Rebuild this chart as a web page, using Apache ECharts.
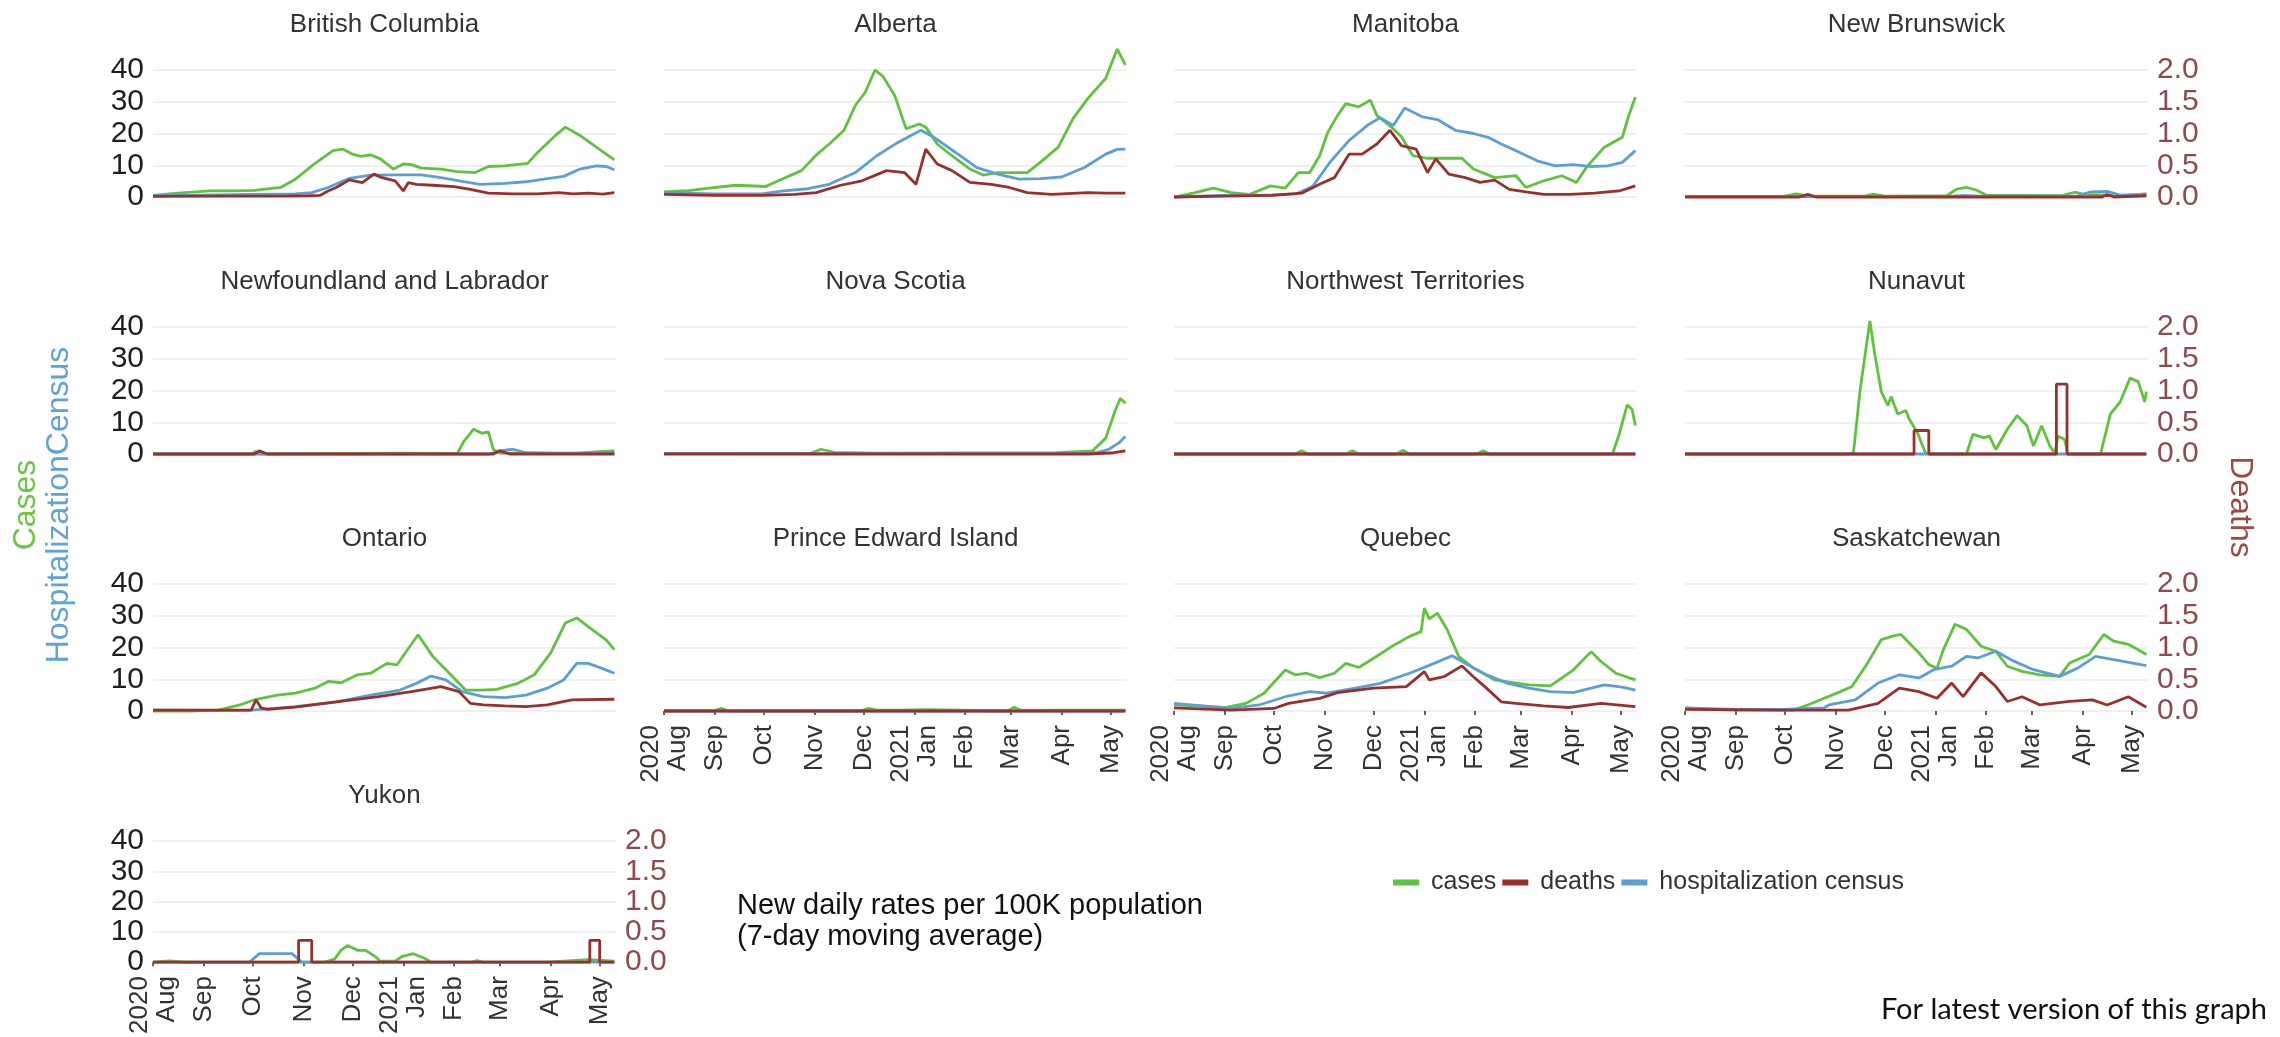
<!DOCTYPE html>
<html><head><meta charset="utf-8">
<script src="https://cdn.jsdelivr.net/npm/echarts@6/dist/echarts.min.js"></script>
<style>html,body{margin:0;padding:0;background:#fff}#chart{width:2280px;height:1037px}</style>
</head><body><div id="chart"></div>
<script>
// x values = days since 2020-08-01
const xMaxDay = 283;
const monthTickDays = [0, 31, 61, 92, 122, 153, 184, 212, 243, 273];
const monthTickLabels = ['2020\nAug', 'Sep', 'Oct', 'Nov', 'Dec', '2021\nJan', 'Feb', 'Mar', 'Apr', 'May'];
const provinces = ['British Columbia', 'Alberta', 'Manitoba', 'New Brunswick',
  'Newfoundland and Labrador', 'Nova Scotia', 'Northwest Territories', 'Nunavut',
  'Ontario', 'Prince Edward Island', 'Quebec', 'Saskatchewan', 'Yukon'];

// cases & hospitalization census per 100K (left axis); deaths per 100K (right axis)
const bcCases = [[0,0.5],[15,1.2],[35,1.9],[50,1.9],[62,2.1],[78,3],[87,5.6],[97,9.8],[110,14.6],[116,15.1],[122,13.5],[127,12.8],[133,13.3],[139,12],[147,8.8],[153,10.4],[158,10.2],[164,9.1],[176,8.8],[186,8],[197,7.7],[205,9.6],[215,9.8],[229,10.6],[235,14],[246,19.4],[252,22],[261,19.4],[271,15.7],[282,11.7]];
const bcHosp = [[0,0.4],[30,0.6],[60,0.8],[87,1],[97,1.4],[107,3],[120,5.9],[133,6.9],[151,7],[164,7],[176,6.1],[189,4.9],[200,4],[215,4.3],[228,4.8],[241,5.8],[251,6.5],[261,8.8],[271,9.8],[277,9.6],[282,8.6]];
const bcDeaths = [[0,0.01],[40,0.015],[80,0.015],[95,0.02],[102,0.025],[107,0.095],[112,0.15],[120,0.27],[128,0.225],[135,0.36],[140,0.305],[148,0.255],[153,0.095],[156,0.225],[161,0.2],[171,0.185],[184,0.165],[194,0.12],[205,0.06],[220,0.05],[235,0.05],[248,0.07],[257,0.05],[266,0.06],[275,0.045],[282,0.07]];

const abCases = [[0,1.6],[15,2],[29,2.9],[44,3.7],[62,3.3],[73,5.8],[84,8.3],[93,13.2],[101,16.7],[110,21],[117,28.9],[123,33],[129,40],[134,37.9],[141,32],[148,21.5],[156,23],[160,22],[167,16.7],[176,13],[187,8.8],[195,6.9],[204,7.7],[215,7.7],[222,7.7],[230,10.9],[241,15.7],[250,24.7],[259,31],[270,37.4],[277,46.6],[282,41.6]];
const abHosp = [[0,1.4],[30,1],[60,1],[73,1.9],[88,2.6],[101,4],[117,7.7],[130,13],[143,17.2],[157,21],[165,18.8],[178,14.1],[191,9.3],[204,7.2],[217,5.6],[230,5.8],[243,6.3],[257,9.3],[270,13.5],[277,15],[282,15.1]];
const abDeaths = [[0,0.04],[30,0.025],[60,0.025],[80,0.04],[93,0.07],[108,0.185],[121,0.255],[136,0.415],[147,0.385],[154,0.2],[160,0.755],[167,0.52],[176,0.415],[187,0.23],[200,0.2],[211,0.15],[222,0.07],[237,0.04],[259,0.07],[270,0.06],[282,0.06]];

const mbCases = [[0,0],[13,1.4],[24,2.8],[35,1.4],[46,0.8],[59,3.5],[68,2.8],[76,7.7],[83,7.7],[89,13],[94,20.4],[100,25.7],[105,29.4],[113,28.4],[120,30.5],[124,25.7],[133,22],[139,19],[146,13],[155,12.2],[176,12.2],[183,8.8],[196,6.1],[209,6.7],[215,3],[226,5.1],[237,6.7],[246,4.6],[252,9.3],[263,15.7],[274,18.8],[278,25.7],[282,31.5]];
const mbHosp = [[0,0],[30,0.5],[60,0.7],[75,1],[85,3.5],[96,11.4],[107,17.8],[118,22.5],[126,25],[134,22.5],[141,28],[152,25.2],[161,24.4],[172,21],[183,20],[192,18.8],[200,16.7],[209,14.6],[222,11.4],[233,9.8],[244,10.2],[255,9.6],[265,9.8],[274,10.9],[282,14.6]];
const mbDeaths = [[0,0],[30,0.015],[60,0.025],[78,0.06],[89,0.2],[98,0.305],[107,0.675],[115,0.675],[124,0.835],[132,1.05],[139,0.81],[148,0.755],[155,0.385],[160,0.6],[168,0.36],[178,0.305],[187,0.23],[196,0.265],[205,0.12],[215,0.08],[226,0.04],[242,0.04],[257,0.06],[272,0.095],[282,0.175]];

const nbCases = [[0,0.1],[60,0.2],[68,1],[76,0.3],[110,0.3],[115,0.9],[122,0.3],[160,0.4],[166,2.5],[172,3],[178,2.2],[184,0.6],[230,0.4],[238,1.5],[244,0.8],[260,0.6],[270,0.5],[282,1]];
const nbHosp = [[0,0.1],[160,0.1],[170,0.5],[180,0.3],[240,0.3],[248,1.6],[258,1.8],[266,0.6],[282,0.9]];
const nbDeaths = [[0,0],[70,0],[75,0.04],[80,0],[255,0],[258,0.04],[262,0],[282,0.02]];

const nlCases = [[0,0],[60,0],[63,0.8],[66,0],[120,0.2],[150,0.3],[186,0.2],[190,4],[196,7.8],[201,6.5],[205,7],[208,1.5],[212,0.3],[260,0.3],[275,0.8],[282,1]];
const nlHosp = [[0,0],[205,0],[212,1],[220,1.5],[228,0.4],[250,0.2],[282,0.4]];
const nlDeaths = [[0,0],[62,0],[65,0.05],[70,0],[208,0],[212,0.05],[218,0],[282,0]];

const nsCases = [[0,0.1],[90,0.3],[96,1.5],[104,0.5],[130,0.3],[240,0.4],[262,1],[270,5],[276,14],[279,17.5],[282,16]];
const nsHosp = [[0,0.1],[255,0.2],[265,0.5],[272,1.5],[278,3.5],[282,5.5]];
const nsDeaths = [[0,0],[260,0],[275,0.02],[282,0.05]];

const ntCases = [[0,0],[74,0],[78,1],[82,0],[105,0],[109,1],[113,0],[136,0],[140,1.2],[144,0],[185,0],[189,1],[193,0],[268,0],[272,6],[277,15.5],[280,14],[282,9]];
const ntHosp = [[0,0],[282,0]];
const ntDeaths = [[0,0],[282,0]];

const nuCases = [[0,0],[100,0],[103,0.5],[107,20],[113,41.9],[116,31.4],[120,19.6],[124,15.3],[126,18],[130,12.6],[135,13.7],[137,11],[142,6.8],[147,0.3],[150,0],[172,0],[176,6.2],[183,5.1],[186,5.7],[190,1.4],[197,7.8],[203,12.1],[209,8.9],[213,2.5],[218,8.9],[223,2.5],[226,0.3],[228,5.7],[232,4.6],[234,0],[254,0],[260,12.6],[266,16.4],[272,23.9],[277,22.8],[281,16.4],[282,19.6]];
const nuHosp = [[0,0],[282,0]];
const nuDeaths = [[0,0],[140,0],[140,0.37],[149,0.37],[149,0],[227,0],[227,1.1],[233.5,1.1],[233.5,0],[282,0]];

const onCases = [[0,0],[22,0],[40,0.3],[53,1.9],[63,3.7],[76,5],[87,5.6],[99,7.2],[107,9.3],[115,8.9],[125,11.4],[133,11.9],[143,15],[149,14.5],[162,24],[171,17.2],[182,11.4],[191,6.6],[200,6.6],[210,6.8],[223,8.7],[233,11.4],[243,18.2],[252,27.7],[259,29.3],[266,26.6],[277,22.4],[282,19.3]];
const onHosp = [[0,0.3],[40,0.2],[60,0.3],[66,0.5],[87,1.4],[112,2.9],[133,5],[151,6.6],[161,8.7],[170,11],[179,9.8],[189,6.1],[202,4.5],[215,4.2],[228,5],[241,7.2],[251,9.8],[259,15],[266,15],[274,13.5],[282,11.9]];
const onDeaths = [[0,0.015],[60,0.015],[63,0.175],[66,0.05],[70,0.025],[87,0.06],[112,0.145],[138,0.225],[158,0.305],[176,0.385],[187,0.305],[194,0.12],[202,0.095],[215,0.08],[228,0.07],[241,0.095],[256,0.175],[282,0.185]];

const peCases = [[0,0],[30,0],[35,0.8],[40,0],[120,0],[125,0.8],[130,0.3],[145,0.3],[160,0.4],[210,0],[214,1.2],[218,0.2],[240,0.3],[282,0.3]];
const peHosp = [[0,0],[282,0]];
const peDeaths = [[0,0],[282,0]];

const qcCases = [[0,1.9],[13,1.6],[31,1.1],[44,2.4],[55,5.6],[68,12.9],[74,11.4],[81,11.9],[89,10.5],[98,11.9],[105,15],[113,13.7],[122,16.6],[133,20.3],[144,23.5],[151,25],[153,32.4],[156,29],[161,30.8],[167,25.6],[174,17.2],[183,13.5],[196,9.8],[207,8.9],[217,8.2],[230,7.9],[244,12.9],[255,18.7],[261,15.6],[270,11.9],[282,9.8]];
const qcHosp = [[0,2.4],[35,0.8],[52,1.9],[68,4.5],[83,6.1],[93,5.6],[111,7.2],[126,8.7],[144,11.9],[159,15],[170,17.4],[178,15],[191,11.4],[204,8.7],[217,7.2],[230,6.1],[244,5.8],[263,8.2],[274,7.5],[282,6.6]];
const qcDeaths = [[0,0.05],[35,0.015],[61,0.04],[70,0.12],[89,0.2],[100,0.29],[122,0.36],[142,0.385],[153,0.62],[156,0.49],[165,0.54],[176,0.71],[183,0.54],[191,0.36],[200,0.145],[209,0.12],[226,0.08],[241,0.055],[261,0.12],[282,0.07]];

const skCases = [[0,1],[15,0.5],[32,0.3],[66,0.3],[75,1.9],[95,6.1],[102,7.7],[111,14.6],[120,22.5],[127,23.6],[132,24.1],[143,18.3],[149,14.6],[154,13.5],[158,19.4],[165,27.3],[172,25.7],[181,20.4],[190,18.8],[197,14.1],[206,12.5],[217,11.4],[229,10.9],[235,15.1],[247,17.8],[256,24.1],[262,22],[271,21],[282,17.8]];
const skHosp = [[0,1],[30,0.5],[60,0.5],[85,1],[88,1.9],[104,3.5],[118,8.8],[131,11.4],[143,10.4],[152,13],[163,14.1],[172,17.2],[179,16.7],[190,18.8],[201,15.7],[213,13],[229,10.9],[240,13.5],[251,17.2],[262,16.2],[282,14.3]];
const skDeaths = [[0,0.025],[60,0.015],[100,0.015],[118,0.12],[131,0.36],[143,0.305],[154,0.2],[163,0.44],[170,0.225],[181,0.6],[190,0.385],[197,0.15],[206,0.225],[217,0.095],[235,0.15],[249,0.175],[258,0.095],[271,0.225],[282,0.06]];

const ykCases = [[0,0],[10,0.4],[20,0],[105,0],[111,1],[115,4],[119,5.5],[125,3.9],[130,3.9],[136,1.8],[139,0.3],[148,0.3],[152,1.8],[159,2.8],[166,1.3],[170,0],[195,0],[198,0.5],[202,0],[240,0],[256,0.5],[266,0.8],[282,0.3]];
const ykHosp = [[0,0],[59,0],[65,2.8],[85,2.8],[91,0],[282,0]];
const ykDeaths = [[0,0],[89,0],[89,0.36],[97,0.36],[97,0],[267,0],[267,0.36],[273,0.36],[273,0],[282,0]];

const casesSeries = [bcCases, abCases, mbCases, nbCases, nlCases, nsCases, ntCases, nuCases, onCases, peCases, qcCases, skCases, ykCases];
const hospSeries = [bcHosp, abHosp, mbHosp, nbHosp, nlHosp, nsHosp, ntHosp, nuHosp, onHosp, peHosp, qcHosp, skHosp, ykHosp];
const deathsSeries = [bcDeaths, abDeaths, mbDeaths, nbDeaths, nlDeaths, nsDeaths, ntDeaths, nuDeaths, onDeaths, peDeaths, qcDeaths, skDeaths, ykDeaths];

// ---- layout ----
const colLeft = [153, 664, 1174, 1685];
const rowTop = [70, 327, 584, 841];
const panelW = 463, panelH = 127;
const GREEN = '#5ec43c', RED = '#9a2f2c', BLUE = '#5b9fd8';
const FONT = "'Liberation Sans', Arial, sans-serif";

const grids = [], xAxes = [], yAxes = [], series = [], graphics = [];
provinces.forEach((name, i) => {
  const r = Math.floor(i / 4), c = i % 4;
  const isYukon = i === 12;
  const showX = i >= 9;
  const showLeft = c === 0;
  const showRight = c === 3 || isYukon;
  grids.push({left: colLeft[c], top: rowTop[r], width: panelW, height: panelH, containLabel: false});
  xAxes.push({
    type: 'value', gridIndex: i, min: 0, max: xMaxDay, offset: 8,
    axisLine: {show: false}, splitLine: {show: false},
    axisTick: {show: showX, customValues: monthTickDays, length: 4, lineStyle: {color: '#333', width: 1.5}},
    axisLabel: {show: showX, customValues: monthTickDays, rotate: 90, margin: 6, fontSize: 26, lineHeight: 27,
      color: '#333', fontFamily: FONT,
      formatter: v => { const k = monthTickDays.indexOf(v); return k >= 0 ? monthTickLabels[k] : ''; }}
  });
  yAxes.push({
    type: 'value', gridIndex: i, min: 0, max: 40, interval: 10, position: 'left',
    axisLine: {show: false}, axisTick: {show: false},
    axisLabel: {show: showLeft, fontSize: 30, color: '#1e1e1e', margin: 9, fontFamily: FONT},
    splitLine: {show: true, lineStyle: {color: '#ebebeb', width: 1.5}}
  });
  yAxes.push({
    type: 'value', gridIndex: i, min: 0, max: 2, interval: 0.5, position: 'right',
    axisLine: {show: false}, axisTick: {show: false},
    axisLabel: {show: showRight, fontSize: 30, color: '#8e4b4b', margin: 9, fontFamily: FONT,
      formatter: v => v.toFixed(1)},
    splitLine: {show: false}
  });
  const base = {type: 'line', xAxisIndex: i, showSymbol: false, clip: false, animation: false, silent: true};
  series.push(Object.assign({}, base, {name: 'cases', yAxisIndex: 2 * i, data: casesSeries[i], color: GREEN, lineStyle: {color: GREEN, width: 2.8}, z: 2}));
  series.push(Object.assign({}, base, {name: 'hospitalization census', yAxisIndex: 2 * i, data: hospSeries[i], color: BLUE, lineStyle: {color: BLUE, width: 2.8}, z: 3}));
  series.push(Object.assign({}, base, {name: 'deaths', yAxisIndex: 2 * i + 1, data: deathsSeries[i], color: RED, lineStyle: {color: RED, width: 2.8}, z: 4}));
  graphics.push({type: 'text', x: colLeft[c] + panelW / 2, y: rowTop[r] - 45,
    style: {text: name, fill: '#333', fontSize: 26, fontFamily: FONT, align: 'center', verticalAlign: 'middle', textAlign: 'center', textVerticalAlign: 'middle'}});
});

graphics.push({type: 'text', x: 26, y: 505, rotation: Math.PI / 2,
  style: {text: 'Cases', fill: '#66c843', fontSize: 32, fontFamily: FONT, align: 'center', verticalAlign: 'middle', textAlign: 'center', textVerticalAlign: 'middle'}});
graphics.push({type: 'text', x: 59, y: 505, rotation: Math.PI / 2,
  style: {text: 'HospitalizationCensus', fill: '#5ea3da', fontSize: 32, fontFamily: FONT, align: 'center', verticalAlign: 'middle', textAlign: 'center', textVerticalAlign: 'middle'}});
graphics.push({type: 'text', x: 2240, y: 507, rotation: -Math.PI / 2,
  style: {text: 'Deaths', fill: '#9c4a47', fontSize: 32, fontFamily: FONT, align: 'center', verticalAlign: 'middle', textAlign: 'center', textVerticalAlign: 'middle'}});
graphics.push({type: 'text', x: 737, y: 921,
  style: {text: 'New daily rates per 100K population\n(7-day moving average)', fill: '#111', fontSize: 29, lineHeight: 31, fontFamily: FONT, align: 'left', verticalAlign: 'middle', textAlign: 'left', textVerticalAlign: 'middle'}});
graphics.push({type: 'text', x: 2267, y: 1010,
  style: {text: 'For latest version of this graph', fill: '#111', fontSize: 29, fontFamily: "Lato, 'Open Sans', sans-serif", align: 'right', verticalAlign: 'middle', textAlign: 'right', textVerticalAlign: 'middle'}});

const chart = echarts.init(document.getElementById('chart'), null, {renderer: 'canvas'});
chart.setOption({
  animation: false,
  backgroundColor: '#ffffff',
  textStyle: {fontFamily: FONT},
  grid: grids, xAxis: xAxes, yAxis: yAxes, series: series,
  legend: {data: ['cases', 'deaths', 'hospitalization census'], left: 1388, top: 865, icon: 'rect',
    itemWidth: 26, itemHeight: 6, itemGap: 6, textStyle: {fontSize: 25, color: '#333', fontFamily: FONT, padding: [0, 0, 0, 7]}},
  graphic: {elements: graphics}
});
</script></body></html>
